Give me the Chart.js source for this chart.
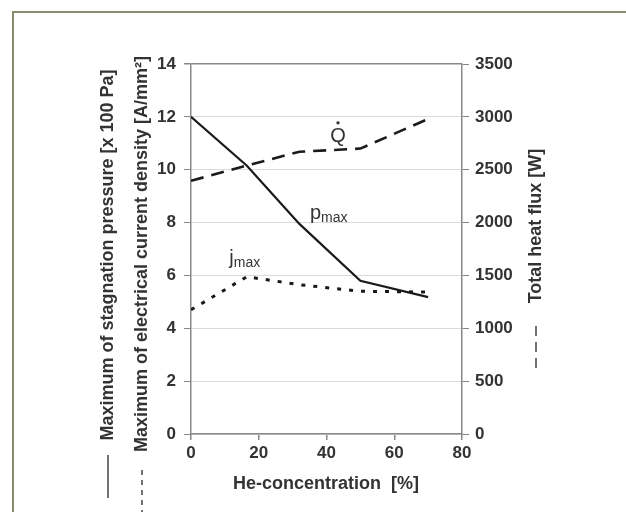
<!DOCTYPE html>
<html lang="en">
<head>
  <meta charset="UTF-8" />
  <title>He-concentration</title>
  <script src="https://cdn.jsdelivr.net/npm/chart.js"></script>
  <style>
    body { margin: 0; background: #ffffff; }
    .frame {
      position: absolute;
      left: 12px;
      top: 11px;
      width: 640px;
      height: 540px;
      border-left: 2.5px solid #8c8a6c;
      border-top: 2.5px solid #8c8a6c;
    }
    #chart { position: absolute; left: 0; top: 0; }
  </style>
</head>
<body>
<div class="frame"></div>
<canvas id="chart" width="626" height="512"></canvas>

<script>
  // data
  const heConcentration = [0, 16.5, 32, 50, 70];       // %
  const pMax = [12, 10.15, 7.95, 5.8, 5.18];            // x 100 Pa
  const jMax = [4.7, 5.95, 5.65, 5.4, 5.37];            // A/mm2
  const heatFlux = [2395, 2540, 2670, 2700, 2980];      // W

  const xTicks = [0, 20, 40, 60, 80];
  const leftTicks = [0, 2, 4, 6, 8, 10, 12, 14];
  const rightTicks = [0, 500, 1000, 1500, 2000, 2500, 3000, 3500];

  const FONT = '"Liberation Sans", Arial, sans-serif';
  const TXT = '#333333';

  const pts = ys => heConcentration.map((x, i) => ({ x: x, y: ys[i] }));

  const labelsPlugin = {
    id: 'labels',
    afterDraw(chart) {
      const ctx = chart.ctx;
      const xs = chart.scales.x, ys = chart.scales.y;
      ctx.save();
      ctx.fillStyle = TXT;
      ctx.strokeStyle = '#444';

      function vText(text, x, y, size) {
        ctx.save();
        ctx.translate(x, y);
        ctx.rotate(-Math.PI / 2);
        ctx.font = 'bold ' + size + 'px ' + FONT;
        ctx.textAlign = 'center';
        ctx.textBaseline = 'middle';
        ctx.fillText(text, 0, 0);
        ctx.restore();
      }
      function vLine(x, y1, y2, dash, w) {
        ctx.save();
        ctx.lineWidth = w;
        ctx.setLineDash(dash);
        ctx.beginPath();
        ctx.moveTo(x, y1);
        ctx.lineTo(x, y2);
        ctx.stroke();
        ctx.restore();
      }

      // axis titles
      vText('Maximum of stagnation pressure [x 100 Pa]', 108, 255, 18);
      vLine(108, 498, 455, [], 1.5);
      vText('Maximum of electrical current density [A/mm\u00b2]', 142, 254, 18);
      vLine(142, 470, 512, [5, 5], 1.5);
      vText('Total heat flux [W]', 536, 226, 18);
      vLine(536, 368, 320, [10, 6], 1.5);

      ctx.font = 'bold 18px ' + FONT;
      ctx.textAlign = 'center';
      ctx.textBaseline = 'middle';
      ctx.fillText('He-concentration  [%]', 326, 484);

      // curve labels
      ctx.textBaseline = 'alphabetic';
      let px = xs.getPixelForValue(43.4), py = ys.getPixelForValue(11.32);
      ctx.font = '20px ' + FONT;
      ctx.textAlign = 'center';
      ctx.fillText('Q', px, py + 7);
      ctx.beginPath();
      ctx.arc(px, py - 12, 1.7, 0, Math.PI * 2);
      ctx.fill();

      ctx.textAlign = 'left';
      px = xs.getPixelForValue(35.1); py = ys.getPixelForValue(8.15);
      ctx.font = '20px ' + FONT;
      ctx.fillText('p', px, py);
      let w = ctx.measureText('p').width;
      ctx.font = '14px ' + FONT;
      ctx.fillText('max', px + w, py + 3);

      px = xs.getPixelForValue(11.3); py = ys.getPixelForValue(6.45);
      ctx.font = '20px ' + FONT;
      ctx.fillText('j', px, py);
      w = ctx.measureText('j').width;
      ctx.font = '14px ' + FONT;
      ctx.fillText('max', px + w, py + 3);

      ctx.restore();
    }
  };

  new Chart(document.getElementById('chart'), {
    type: 'line',
    data: {
      datasets: [
        {
          label: 'pmax',
          data: pts(pMax),
          yAxisID: 'y',
          borderColor: '#1a1a1a',
          borderWidth: 2.2,
          pointRadius: 0,
          tension: 0
        },
        {
          label: 'jmax',
          data: pts(jMax),
          yAxisID: 'y',
          borderColor: '#1a1a1a',
          borderWidth: 3,
          borderDash: [4, 8],
          pointRadius: 0,
          tension: 0
        },
        {
          label: 'Q',
          data: pts(heatFlux),
          yAxisID: 'y2',
          borderColor: '#1a1a1a',
          borderWidth: 2.6,
          borderDash: [13, 8],
          pointRadius: 0,
          tension: 0
        }
      ]
    },
    options: {
      responsive: false,
      animation: false,
      layout: { padding: { top: 64, left: 0, right: 0, bottom: 0 } },
      plugins: { legend: { display: false }, tooltip: { enabled: false } },
      scales: {
        x: {
          type: 'linear',
          min: 0, max: 80,
          afterBuildTicks: s => { s.ticks = xTicks.map(v => ({ value: v })); },
          afterFit: s => { s.height = 78; },
          ticks: { font: { family: FONT, size: 17, weight: 'bold' }, color: TXT, padding: 3 },
          grid: { drawOnChartArea: false, tickLength: 6, tickColor: '#888', lineWidth: 1.5 },
          border: { color: '#888', width: 1.5 }
        },
        y: {
          position: 'left',
          min: 0, max: 14,
          afterBuildTicks: s => { s.ticks = leftTicks.map(v => ({ value: v })); },
          afterFit: s => { s.width = 191; },
          ticks: { font: { family: FONT, size: 17, weight: 'bold' }, color: TXT, padding: 8 },
          grid: {
            color: c => (c.tick && c.tick.value === 14) ? '#888' : '#dadada',
            lineWidth: c => (c.tick && c.tick.value === 14) ? 1.5 : 1,
            tickColor: '#888',
            tickLength: 7
          },
          border: { color: '#888', width: 1.5 }
        },
        y2: {
          position: 'right',
          min: 0, max: 3500,
          afterBuildTicks: s => { s.ticks = rightTicks.map(v => ({ value: v })); },
          afterFit: s => { s.width = 164; },
          ticks: {
            font: { family: FONT, size: 17, weight: 'bold' }, color: TXT, padding: 6,
            callback: v => String(v)
          },
          grid: { drawOnChartArea: false, tickColor: '#888', tickLength: 7 },
          border: { color: '#888', width: 1.5 }
        }
      }
    },
    plugins: [labelsPlugin]
  });
</script>
</body>
</html>
